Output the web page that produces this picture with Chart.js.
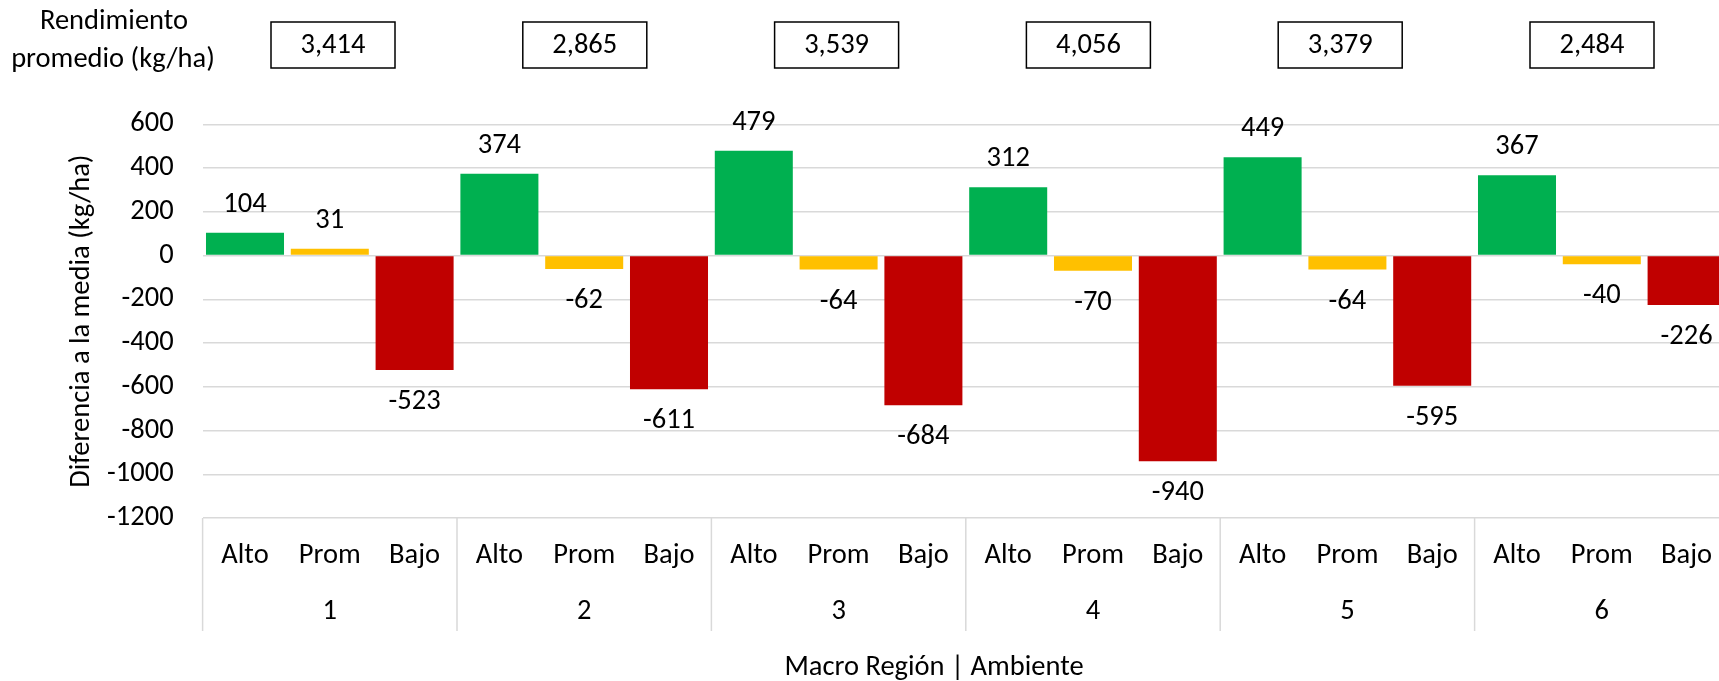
<!DOCTYPE html>
<html>
<head>
<meta charset="utf-8">
<script src="https://cdn.jsdelivr.net/npm/chart.js@4.4.1/dist/chart.umd.min.js"></script>
<style>
  html, body { margin: 0; padding: 0; background: #fff; overflow: hidden; width: 1719px; height: 681px; }
  #wrap { position: absolute; left: 0; top: 0; width: 1760px; height: 681px; }
</style>
</head>
<body>
<div id="wrap"><canvas id="c" width="1760" height="681"></canvas></div>
<script>
// ---- data ----
const regions = ['1', '2', '3', '4', '5', '6'];
const ambientes = ['Alto', 'Prom', 'Bajo'];
const valAlto = [104, 374, 479, 312, 449, 367];
const valProm = [31, -62, -64, -70, -64, -40];
const valBajo = [-523, -611, -684, -940, -595, -226];
const rendimiento = ['3,414', '2,865', '3,539', '4,056', '3,379', '2,484'];
const yTicksMin = -1200, yTicksMax = 600, yStep = 200;
const colAlto = '#00B050', colProm = '#FFC000', colBajo = '#C00000';

// build flat arrays from the small arrays
const labels = [], values = [], colors = [];
regions.forEach((r, i) => {
  labels.push(r + '|Alto');  values.push(valAlto[i]); colors.push(colAlto);
  labels.push(r + '|Prom');  values.push(valProm[i]); colors.push(colProm);
  labels.push(r + '|Bajo');  values.push(valBajo[i]); colors.push(colBajo);
});

const FONT = 'Carlito, Lato, "Open Sans", sans-serif';
const FS = 28.5;
const TXT = '#000000';
const GRID = '#d9d9d9';

const overlay = {
  id: 'overlay',
  afterDraw(chart) {
    const ctx = chart.ctx;
    const xs = chart.scales.x;
    const ca = chart.chartArea;
    const meta = chart.getDatasetMeta(0);
    ctx.save();
    ctx.fillStyle = TXT;
    ctx.font = FS + 'px ' + FONT;
    ctx.textAlign = 'center';
    ctx.textBaseline = 'middle';
    // data labels
    meta.data.forEach((bar, i) => {
      const v = values[i];
      const y = v >= 0 ? bar.y - 28 : bar.y + 32;
      ctx.fillText(String(v), bar.x, y);
    });
    // category labels
    const catW = (xs.right - xs.left) / labels.length;
    labels.forEach((l, i) => {
      ctx.fillText(ambientes[i % 3], xs.getPixelForValue(i), 556);
    });
    // group labels + boxes
    regions.forEach((r, g) => {
      const cx = (xs.getPixelForValue(g * 3) + xs.getPixelForValue(g * 3 + 2)) / 2;
      ctx.fillStyle = TXT;
      ctx.fillText(r, cx, 612);
      // box (text box annotation, placed slightly off group centre as in the source)
      const bx = cx + 3.2 - g * 2.6;
      const bw = 124, bh = 46, by = 22;
      ctx.strokeStyle = '#000';
      ctx.lineWidth = 1.5;
      ctx.strokeRect(bx - bw / 2, by, bw, bh);
      ctx.fillText(rendimiento[g], bx, by + bh / 2 + 1);
    });
    // separators of bottom category box
    ctx.strokeStyle = GRID;
    ctx.lineWidth = 1.5;
    for (let k = 0; k <= regions.length; k++) {
      const x = xs.left + k * 3 * catW;
      ctx.beginPath();
      ctx.moveTo(x, ca.bottom);
      ctx.lineTo(x, 631);
      ctx.stroke();
    }
    // left header
    ctx.fillStyle = TXT;
    ctx.fillText('Rendimiento', 114, 22);
    ctx.fillText('promedio (kg/ha)', 113, 60);
    // x title
    ctx.fillText('Macro Región | Ambiente', 934, 668);
    // y title
    ctx.save();
    ctx.translate(82, (ca.top + ca.bottom) / 2);
    ctx.rotate(-Math.PI / 2);
    ctx.fillText('Diferencia a la media (kg/ha)', 0, 0);
    ctx.restore();
    ctx.restore();
  }
};

new Chart(document.getElementById('c'), {
  type: 'bar',
  data: {
    labels: labels,
    datasets: [{
      data: values,
      backgroundColor: colors,
      borderWidth: 0,
      categoryPercentage: 1.0,
      barPercentage: 0.92
    }]
  },
  options: {
    responsive: false,
    animation: false,
    events: [],
    layout: { padding: { left: 0, top: 124.3, right: 31, bottom: 163 } },
    plugins: { legend: { display: false }, tooltip: { enabled: false } },
    scales: {
      x: { display: false },
      y: {
        min: yTicksMin, max: yTicksMax,
        border: { display: false },
        grid: { color: GRID, lineWidth: 1.5, drawTicks: false },
        ticks: {
          stepSize: yStep,
          padding: 29,
          color: TXT,
          font: { family: FONT, size: FS },
          callback: v => String(v)
        },
        afterFit: s => { s.width = 202.6; }
      }
    }
  },
  plugins: [overlay]
});
</script>
</body>
</html>
